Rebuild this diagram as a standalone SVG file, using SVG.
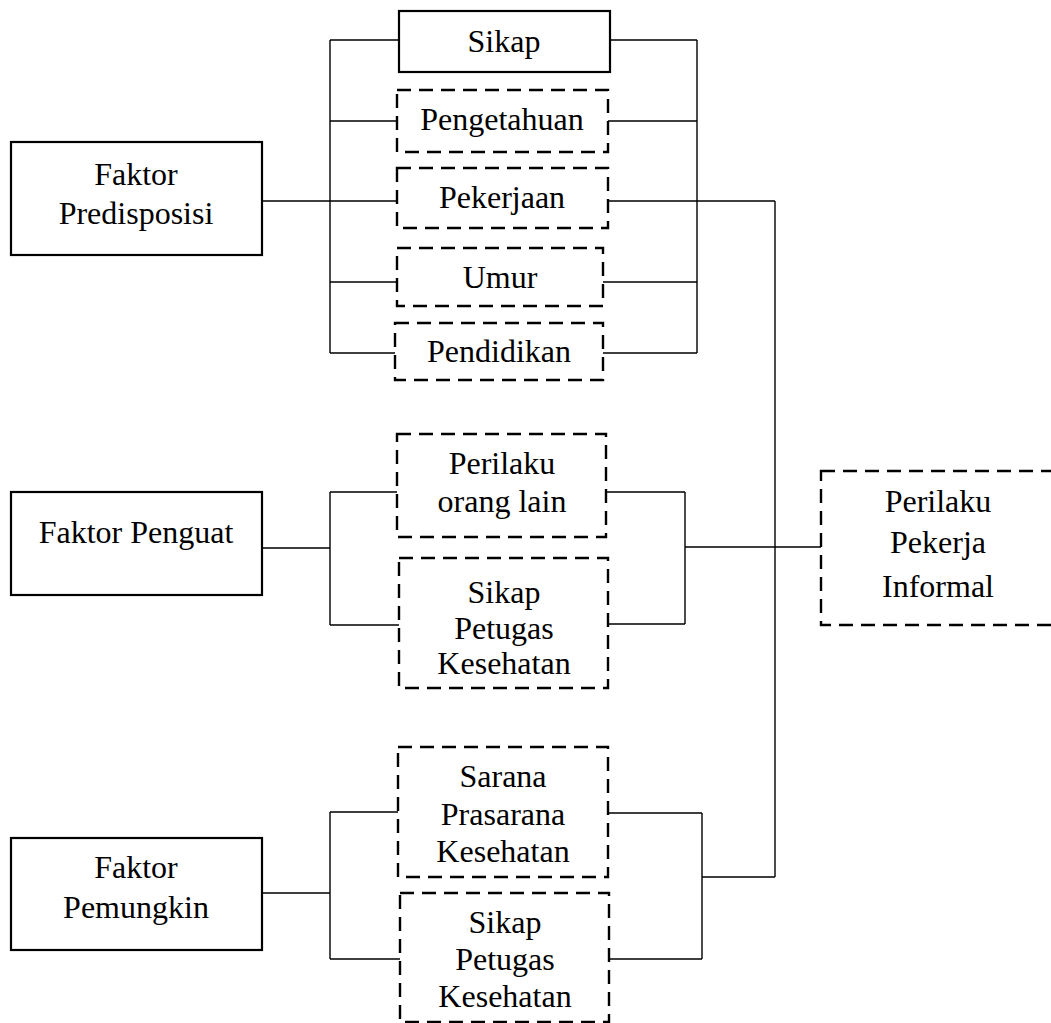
<svg xmlns="http://www.w3.org/2000/svg" width="1051" height="1023" viewBox="0 0 1051 1023">
<style>
.box{fill:#fff;stroke:#000;stroke-width:2.2}
.dash{fill:#fff;stroke:#000;stroke-width:2.4;stroke-dasharray:14 8}
.t{font-family:"Liberation Serif","Times New Roman",serif;font-size:32px;fill:#000;text-anchor:middle}
.c{fill:none;stroke:#000;stroke-width:1.4}
</style>
<rect width="1051" height="1023" fill="#fff"/>
<g id="connectors">
<path class="c" d="M262 201H397M330 40V353M330 40H399M330 121H397M330 282H397M330 353H395"/>
<path class="c" d="M610 40H697M608 121H697M608 201H775M603 282H697M603 353H697M697 40V353"/>
<path class="c" d="M775 201V877"/>
<path class="c" d="M262 548H330M330 492V625M330 492H397M330 625H399"/>
<path class="c" d="M606 492H685M608 624H685M685 492V624M685 547H821"/>
<path class="c" d="M262 893H330M330 812V959M330 812H398M330 959H400"/>
<path class="c" d="M608 813H702M609 959H702M702 813V959M702 877H775"/>
</g>
<g id="faktor-predisposisi"><rect class="box" x="11" y="142" width="251" height="113"/><text class="t" x="136" y="185">Faktor</text><text class="t" x="136" y="224">Predisposisi</text></g>
<g id="sikap"><rect class="box" x="399" y="11" width="211" height="61"/><text class="t" x="504" y="52">Sikap</text></g>
<g id="pengetahuan"><rect class="dash" x="397" y="90" width="211" height="62"/><text class="t" x="502" y="130">Pengetahuan</text></g>
<g id="pekerjaan"><rect class="dash" x="397" y="168" width="211" height="60"/><text class="t" x="502" y="208">Pekerjaan</text></g>
<g id="umur"><rect class="dash" x="397" y="248" width="206" height="58"/><text class="t" x="500" y="288">Umur</text></g>
<g id="pendidikan"><rect class="dash" x="395" y="323" width="208" height="57"/><text class="t" x="499" y="362">Pendidikan</text></g>
<g id="faktor-penguat"><rect class="box" x="11" y="492" width="251" height="103"/><text class="t" x="136" y="543">Faktor Penguat</text></g>
<g id="perilaku-orang-lain"><rect class="dash" x="397" y="434" width="209" height="103"/><text class="t" x="502" y="474">Perilaku</text><text class="t" x="502" y="512">orang lain</text></g>
<g id="sikap-petugas-1"><rect class="dash" x="399" y="558" width="209" height="130"/><text class="t" x="504" y="603">Sikap</text><text class="t" x="504" y="639">Petugas</text><text class="t" x="504" y="674">Kesehatan</text></g>
<g id="perilaku-pekerja-informal"><rect class="dash" x="821" y="471" width="236" height="154"/><text class="t" x="938" y="512">Perilaku</text><text class="t" x="938" y="553">Pekerja</text><text class="t" x="938" y="597">Informal</text></g>
<g id="faktor-pemungkin"><rect class="box" x="11" y="838" width="251" height="112"/><text class="t" x="136" y="878">Faktor</text><text class="t" x="136" y="918">Pemungkin</text></g>
<g id="sarana-prasarana"><rect class="dash" x="398" y="747" width="210" height="130"/><text class="t" x="503" y="787">Sarana</text><text class="t" x="503" y="825">Prasarana</text><text class="t" x="503" y="862">Kesehatan</text></g>
<g id="sikap-petugas-2"><rect class="dash" x="400" y="893" width="209" height="129"/><text class="t" x="505" y="933">Sikap</text><text class="t" x="505" y="970">Petugas</text><text class="t" x="505" y="1007">Kesehatan</text></g>
</svg>
